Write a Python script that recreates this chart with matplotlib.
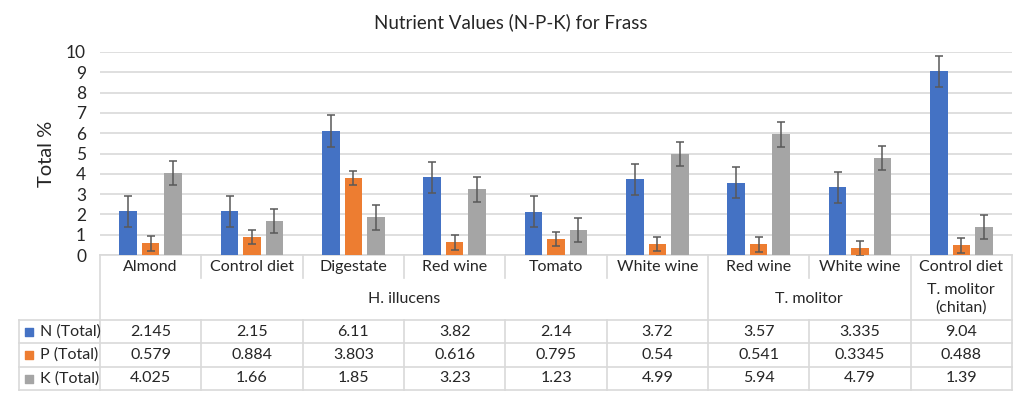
import matplotlib.pyplot as plt

plt.rcParams['font.family'] = ['Lato', 'DejaVu Sans']

categories = ['Almond', 'Control diet', 'Digestate', 'Red wine', 'Tomato', 'White wine',
              'Red wine', 'White wine', 'Control diet']
groups = ['H. illucens', 'T. molitor', 'T. molitor\n(chitan)']
group_spans = [(0, 6), (6, 8), (8, 9)]

series = ['N (Total)', 'P (Total)', 'K (Total)']
n_vals = [2.145, 2.15, 6.11, 3.82, 2.14, 3.72, 3.57, 3.335, 9.04]
p_vals = [0.579, 0.884, 3.803, 0.616, 0.795, 0.54, 0.541, 0.3345, 0.488]
k_vals = [4.025, 1.66, 1.85, 3.23, 1.23, 4.99, 5.94, 4.79, 1.39]
n_labels = ['2.145', '2.15', '6.11', '3.82', '2.14', '3.72', '3.57', '3.335', '9.04']
p_labels = ['0.579', '0.884', '3.803', '0.616', '0.795', '0.54', '0.541', '0.3345', '0.488']
k_labels = ['4.025', '1.66', '1.85', '3.23', '1.23', '4.99', '5.94', '4.79', '1.39']
n_err = [0.75, 0.75, 0.77, 0.75, 0.75, 0.75, 0.75, 0.75, 0.75]
p_err = [0.37, 0.35, 0.35, 0.35, 0.35, 0.35, 0.37, 0.37, 0.37]
k_err = [0.6, 0.6, 0.6, 0.6, 0.6, 0.6, 0.6, 0.6, 0.6]

colors = ['#4472C4', '#ED7D31', '#A5A5A5']
txt = '#262626'
grid = '#D9D9D9'
fs = 11.5

W, H = 1024, 396
fig = plt.figure(figsize=(W / 100, H / 100), dpi=100)
# plot area in pixels: x 100..1012, y 52..255
px_l, px_r, px_t, px_b = 100, 1012, 52, 255
ax = fig.add_axes([px_l / W, 1 - px_b / H, (px_r - px_l) / W, (px_b - px_t) / H])

ncat = len(categories)
xs = [i + 0.5 for i in range(ncat)]
bw = 0.173
off = 0.222
vals = [n_vals, p_vals, k_vals]
errs = [n_err, p_err, k_err]
for j in range(3):
    ax.bar([x + (j - 1) * off for x in xs], vals[j], bw, color=colors[j], zorder=2,
           yerr=errs[j], error_kw=dict(ecolor='#595959', elinewidth=1.1, capsize=3, capthick=1.1))

ax.set_xlim(0, ncat)
ax.set_ylim(0, 10)
ax.set_yticks(range(11))
ax.yaxis.grid(True, color=grid, linewidth=1.2, zorder=0)
ax.set_axisbelow(True)
for s in ax.spines.values():
    s.set_visible(False)
ax.tick_params(axis='y', length=0, labelsize=12.5, labelcolor=txt, pad=10)
ax.set_xticks([])
ax.set_ylabel('Total %', fontsize=14.5, color=txt, labelpad=8)

fig.text(0.499, 1 - 22 / H, 'Nutrient Values (N-P-K) for Frass', ha='center', va='center',
         fontsize=13.5, color=txt)

# table helpers: x in data units, y in pixels
cw = (px_r - px_l) / ncat


def dx(px):
    return (px - px_l) / cw


def ay(py):
    return (px_b - py) / (px_b - px_t)


tr = ax.get_xaxis_transform()


def hline(py, x0, x1):
    ax.plot([x0, x1], [ay(py), ay(py)], color=grid, lw=1.2, transform=tr, clip_on=False, zorder=1)


def vline(x, y0, y1):
    ax.plot([x, x], [ay(y0), ay(y1)], color=grid, lw=1.2, transform=tr, clip_on=False, zorder=1)


y_top, y_cat, y_grp, y_r1, y_r2, y_r3 = 255, 278, 320, 343, 367, 390
hline(y_top, 0, ncat)
for py in [y_grp, y_r1, y_r2, y_r3]:
    hline(py, dx(19), ncat)
vline(0, y_top, y_r3)
vline(dx(19), y_grp, y_r3)
vline(ncat, y_top, y_r3)
bounds = [g[1] for g in group_spans[:-1]]
for i in range(1, ncat):
    if i in bounds:
        vline(i, y_top, y_r3)
    else:
        vline(i, y_top, y_cat)
        vline(i, y_grp, y_r3)

for x, c in zip(xs, categories):
    ax.text(x, ay(267), c, transform=tr, ha='center', va='center', fontsize=fs, color=txt)
for g, (a, b) in zip(groups, group_spans):
    ax.text((a + b) / 2, ay(299), g, transform=tr, ha='center', va='center', fontsize=fs,
            color=txt, linespacing=1.3)

rows = [n_labels, p_labels, k_labels]
row_y = [331.5, 355, 378.5]
for j in range(3):
    for x, v in zip(xs, rows[j]):
        ax.text(x, ay(row_y[j]), v, transform=tr, ha='center', va='center', fontsize=fs, color=txt)
    ax.scatter([dx(29)], [ay(row_y[j])], marker='s', s=40, color=colors[j], transform=tr,
               clip_on=False, zorder=3)
    ax.text(dx(40), ay(row_y[j]), series[j], transform=tr, ha='left', va='center', fontsize=fs,
            color=txt)

fig.savefig('out.png', dpi=100, facecolor='white')
